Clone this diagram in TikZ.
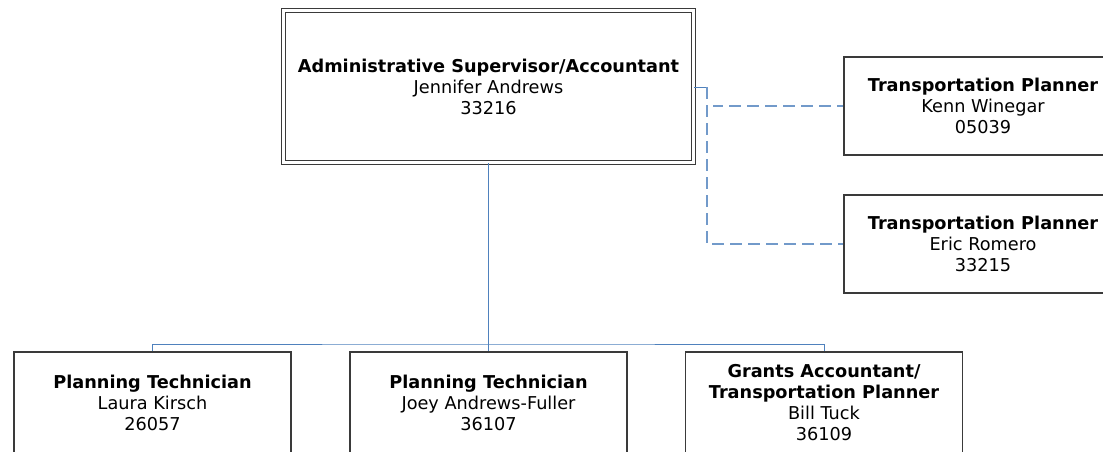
\documentclass[tikz,border=0pt]{standalone}
\usepackage{fontspec}
\setmainfont{DejaVu Sans}
\usetikzlibrary{positioning}
\definecolor{linkblue}{HTML}{4F81BD}
\definecolor{boxgray}{HTML}{3A3A3A}

\begin{document}
\begin{tikzpicture}[x=1pt, y=-1pt,
    person/.style={draw=boxgray, line width=1.3pt, fill=white, align=center,
      minimum width=277pt, minimum height=98pt, inner sep=2pt,
      font=\fontsize{17.7}{21}\selectfont},
    chief/.style={person, double, double distance=2.4pt, line width=1.3pt,
      minimum width=410pt, minimum height=152pt},
    reports/.style={draw=linkblue, line width=1pt},
    advises/.style={draw=linkblue!80, line width=1.2pt, dash pattern=on 12pt off 6pt}]
  \useasboundingbox (0,0) rectangle (1103,451);
  \clip (0,0) rectangle (1103,451);

  % supervisor
  \node[chief] (super) at (488.5,86.5)
    {\textbf{Administrative Supervisor/Accountant}\\Jennifer Andrews\\33216};

  % planners on the side
  \node[person, minimum width=278pt] (kenn) at (983,106)
    {\textbf{Transportation Planner}\\Kenn Winegar\\05039};
  \node[person, minimum width=278pt] (eric) at (983,244)
    {\textbf{Transportation Planner}\\Eric Romero\\33215};

  % staff below
  \node[person, minimum height=102pt] (laura) at (152.5,403)
    {\textbf{Planning Technician}\\Laura Kirsch\\26057};
  \node[person, minimum height=102pt] (joey) at (488.5,403)
    {\textbf{Planning Technician}\\Joey Andrews-Fuller\\36107};
  \node[person, minimum height=102pt] (bill) at (824,403)
    {\textbf{Grants Accountant/}\\\textbf{Transportation Planner}\\Bill Tuck\\36109};

  % solid lines
  \coordinate (bus) at (488.5,344);
  \draw[reports] (super.south) -- (bus);
  \draw[reports] (laura.north) |- (bus) -| (bill.north);
  \draw[reports] (bus) -- (joey.north);

  % dashed lines
  \coordinate (side) at (707,87);
  \draw[reports] (super.east |- side) -- (side);
  \draw[advises] (side) |- (eric.west);
  \draw[advises, dash phase=2pt] ([xshift=6pt]side |- kenn.west) -- (kenn.west);
\end{tikzpicture}
\end{document}
